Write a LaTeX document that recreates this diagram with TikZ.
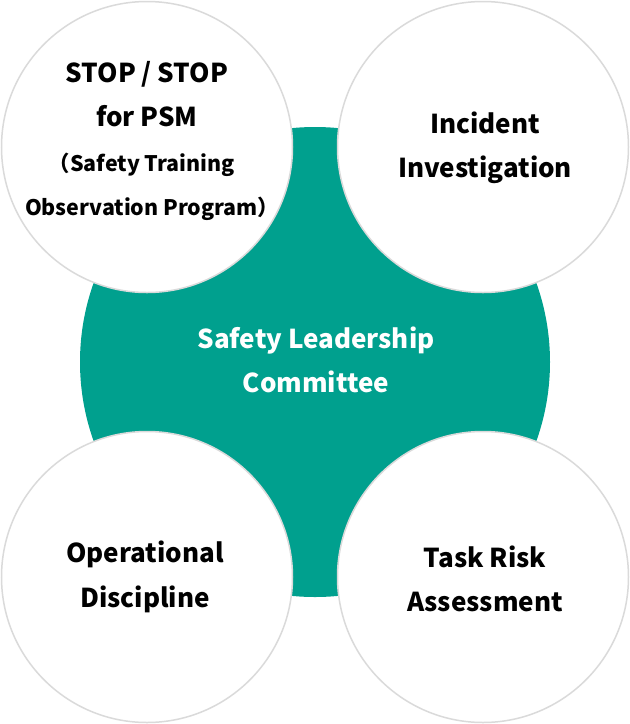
\documentclass[tikz,border=0pt]{standalone}
\usepackage{fontspec}
\setmainfont{Noto Sans CJK KR}
\definecolor{leadgreen}{HTML}{00A08E}
\definecolor{rimgray}{HTML}{DADADA}
\newcommand{\lparen}{\makebox[11pt][r]{（}}
\newcommand{\rparen}{\makebox[11pt][l]{）}}
\begin{document}
\begin{tikzpicture}[x=1pt,y=-1pt,
    petal/.style={circle,fill=white,draw=rimgray,line width=1.5pt,minimum size=291pt,inner sep=0pt},
    txt/.style={align=center,font=\bfseries\fontsize{26}{44.5}\selectfont}]
    \useasboundingbox (0,0) rectangle (630,724);
    \coordinate (O) at (315,362);

    \fill[leadgreen] (O) circle (235);

    \node[petal] (stop) at (147,147) {};
    \node[petal] (incident) at (483,147) {};
    \node[petal] (discipline) at (147,577) {};
    \node[petal] (risk) at (483,577) {};

    \node[txt,text=white] (core) at (316,360) {Safety Leadership\\Committee};
    \node[txt] (stoptext) at (147,141) {STOP / STOP\\for PSM\\
        {\fontsize{21.4}{44.5}\selectfont \lparen Safety Training}\\
        {\fontsize{21.4}{44.5}\selectfont Observation Program\rparen}};
    \node[txt] (incidenttext) at (485,148) {Incident\\Investigation};
    \node[txt] (disciplinetext) at (145,577) {Operational\\Discipline};
    \node[txt] (risktext) at (485,579) {Task Risk\\Assessment};
\end{tikzpicture}
\end{document}
